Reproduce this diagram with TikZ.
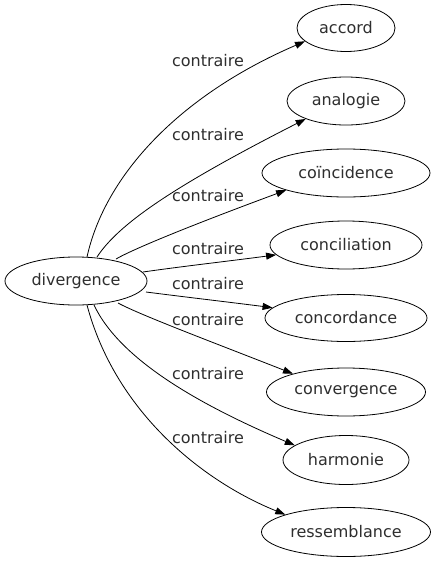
\documentclass[tikz,border=0pt]{standalone}
\usepackage{fontspec}
\setmainfont{DejaVu Sans}
\usetikzlibrary{arrows.meta,shapes.geometric}
\begin{document}
\begin{tikzpicture}[x=1pt,y=-1pt,
  word/.style={draw,ellipse,line width=0.8pt,inner sep=0pt,font=\fontsize{16}{19}\selectfont,text=black!82},
  lbl/.style={inner sep=0pt,font=\fontsize{16}{19}\selectfont,text=black!82},
  link/.style={draw,line width=0.8pt,-{Triangle[length=10pt,width=7pt]}}]
\useasboundingbox (0,0) rectangle (436,563);
\node[word,minimum width=142pt,minimum height=48pt] (d) at (76,281) {divergence};
\node[word,minimum width=98pt,minimum height=47pt] (a1) at (346,28) {accord};
\node[word,minimum width=118pt,minimum height=48pt] (a2) at (346,101) {analogie};
\node[word,minimum width=168pt,minimum height=48pt] (a3) at (346,173) {coïncidence};
\node[word,minimum width=152pt,minimum height=48pt] (a4) at (346,245) {conciliation};
\node[word,minimum width=162pt,minimum height=47pt] (a5) at (346,318) {concordance};
\node[word,minimum width=159pt,minimum height=48pt] (a6) at (346,392) {convergence};
\node[word,minimum width=126pt,minimum height=49pt] (a7) at (346,460) {harmonie};
\node[word,minimum width=169pt,minimum height=49pt] (a8) at (346,532) {ressemblance};
\coordinate (s1) at (87,257);
\coordinate (s2) at (97,257);
\coordinate (s3) at (116,259);
\coordinate (s4) at (143,272);
\coordinate (s5) at (146,292);
\coordinate (s6) at (118,303);
\coordinate (s7) at (94,305);
\coordinate (s8) at (87,305);
\draw[link] (s1) .. controls (105,175) and (180,95) .. (a1.198);
\draw[link] (s2) .. controls (118,225) and (170,188) .. (a2.204);
\draw[link] (s3) .. controls (135,248) and (200,222) .. (a3.196);
\draw[link] (s4) .. controls (185,266) and (230,261) .. (a4.188);
\draw[link] (s5) .. controls (185,297) and (228,302) .. (a5.172);
\draw[link] (s6) .. controls (140,315) and (220,345) .. (a6.161);
\draw[link] (s7) .. controls (120,360) and (200,405) .. (a7.164);
\draw[link] (s8) .. controls (115,410) and (200,480) .. (a8.164);
\node[lbl] (l1) at (208,61) {contraire};
\node[lbl] (l2) at (208,135) {contraire};
\node[lbl] (l3) at (208,196) {contraire};
\node[lbl] (l4) at (208,249) {contraire};
\node[lbl] (l5) at (208,284) {contraire};
\node[lbl] (l6) at (208,320) {contraire};
\node[lbl] (l7) at (208,374) {contraire};
\node[lbl] (l8) at (208,438) {contraire};
\end{tikzpicture}
\end{document}
